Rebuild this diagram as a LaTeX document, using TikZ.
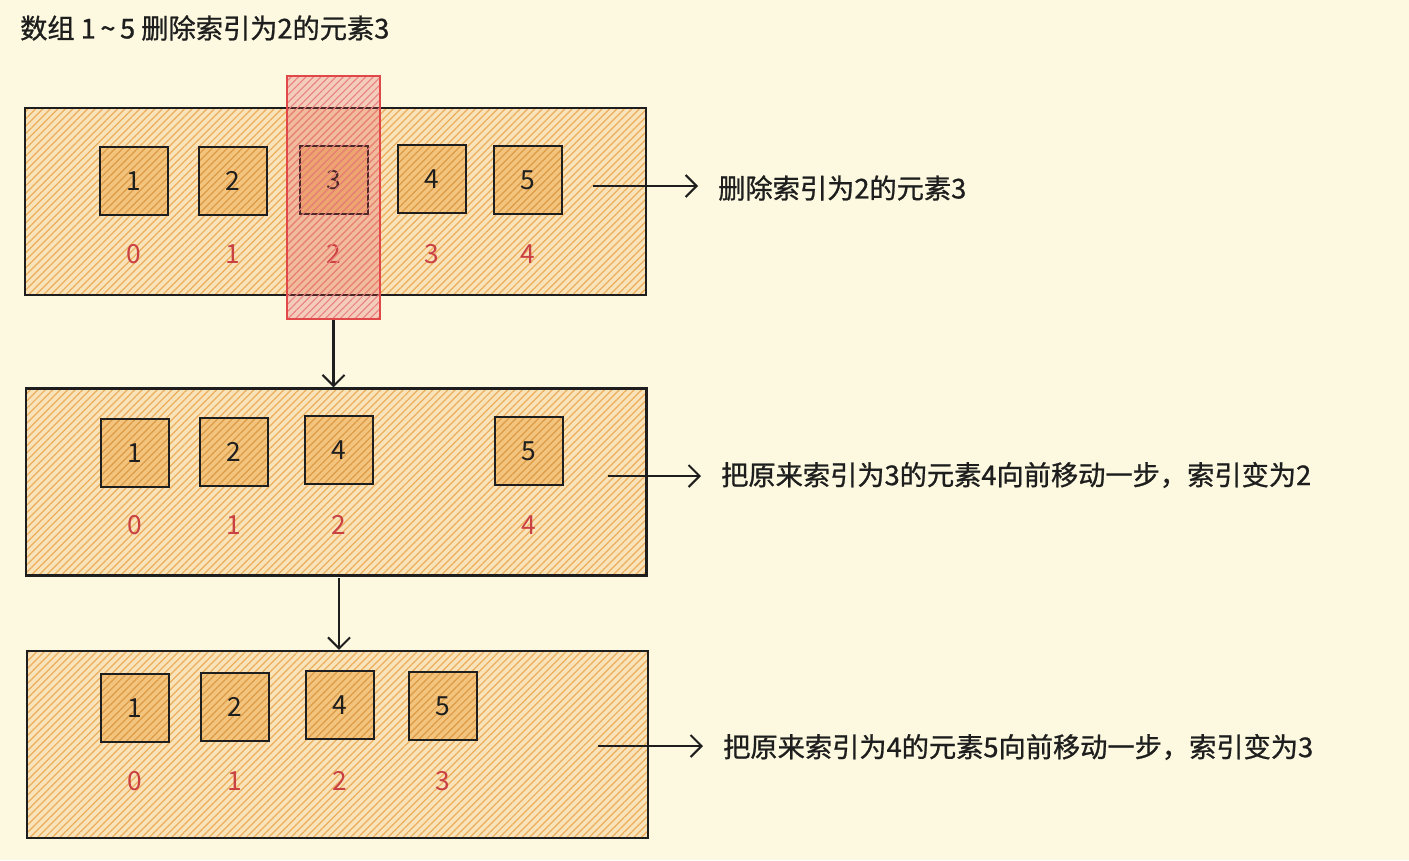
\documentclass[tikz,border=0pt]{standalone}
\usepackage{fontspec}
\setmainfont{Noto Sans CJK SC}
\newfontfamily\notefont[FakeBold=0.9]{Noto Sans CJK SC}
\usepackage{tikz}
\usetikzlibrary{arrows.meta,patterns.meta,positioning}
\definecolor{paper}{HTML}{FCF9E0}
\definecolor{sand}{HTML}{F8E3BA}
\definecolor{ochre}{HTML}{ECAE5C}
\definecolor{amber}{HTML}{F2C47E}
\definecolor{rust}{HTML}{DE9B45}
\definecolor{alarm}{HTML}{E0484A}
\definecolor{ink}{HTML}{1E1E1E}
\begin{document}
\begin{tikzpicture}[x=0.02cm,y=-0.02cm,font=\fontsize{15}{18}\selectfont,
  rowbox/.style={draw=ink,line width=1.2pt,minimum width=12.42cm,minimum height=3.74cm,inner sep=0pt,
    preaction={fill=sand},
    preaction={pattern={Lines[angle=45,distance=3pt,line width=0.7pt]},pattern color=ochre}},
  cell/.style={draw=ink,line width=1pt,minimum size=1.36cm,inner sep=0pt,text=ink,
    preaction={fill=amber},
    preaction={pattern={Lines[angle=45,distance=3pt,line width=0.7pt]},pattern color=rust}},
  idx/.style={text=alarm!90!black,inner sep=1pt},
  note/.style={text=ink,anchor=west,font=\fontsize{15.5}{18}\selectfont\notefont},
  arr/.style={-{Straight Barb[length=2.2mm,width=4.4mm]},line width=1.2pt,draw=ink}]
\useasboundingbox[fill=paper] (0,0) rectangle (1409,860);
% title
\node[note] (title) at (14,28) {数组 1\,\textasciitilde\,5 删除索引为2的元素3};
% step 1: original array
\node[rowbox] (r1) at (335.5,201.5) {};
\foreach \n/\x/\y in {1/134/181,2/233/181,3/334/180,4/432/179,5/528/180}
  \node[cell] (c1\n) at (\x,\y) {\n};
\foreach \n/\x in {0/134,1/233,2/334,3/432,4/528}
  \node[idx] (i1\n) at (\x,254) {\n};
\node[draw=alarm,line width=1.5pt,minimum width=1.86cm,minimum height=4.86cm,
  preaction={fill=alarm,fill opacity=0.25},
  preaction={pattern={Lines[angle=45,distance=3pt,line width=0.6pt]},pattern color=alarm!70}]
  (hl) at (333.5,197.5) {};
\coordinate (s1) at (593,186);
\node[note] (t1) at (712,188) {删除索引为2的元素3};
\draw[arr,shorten >=0.28cm] (s1) -- (s1 -| t1.west);
% step 2: shift element 4
\node[rowbox] (r2) at (336,482) {};
\foreach \n/\x/\y in {1/135/453,2/234/452,4/339/450,5/529/451}
  \node[cell] (c2\n) at (\x,\y) {\n};
\foreach \n/\x in {0/135,1/234,2/339,4/529}
  \node[idx] (i2\n) at (\x,525) {\n};
\draw[arr] (hl.south) -- (hl.south |- r2.north);
\coordinate (s2) at (608,476);
\node[note] (t2) at (715,475) {把原来索引为3的元素4向前移动一步，索引变为2};
\draw[arr,shorten >=0.28cm] (s2) -- (s2 -| t2.west);
% step 3: shift element 5
\node[rowbox] (r3) at (337.5,744.5) {};
\foreach \n/\x/\y in {1/135/708,2/235/707,4/340/705,5/443/706}
  \node[cell] (c3\n) at (\x,\y) {\n};
\foreach \n/\x in {0/135,1/235,2/340,3/443}
  \node[idx] (i3\n) at (\x,781) {\n};
\coordinate (d2) at (339,578);
\draw[arr] (d2) -- (d2 |- r3.north);
\coordinate (s3) at (598,746);
\node[note] (t3) at (717,747) {把原来索引为4的元素5向前移动一步，索引变为3};
\draw[arr,shorten >=0.28cm] (s3) -- (s3 -| t3.west);
\end{tikzpicture}
\end{document}
